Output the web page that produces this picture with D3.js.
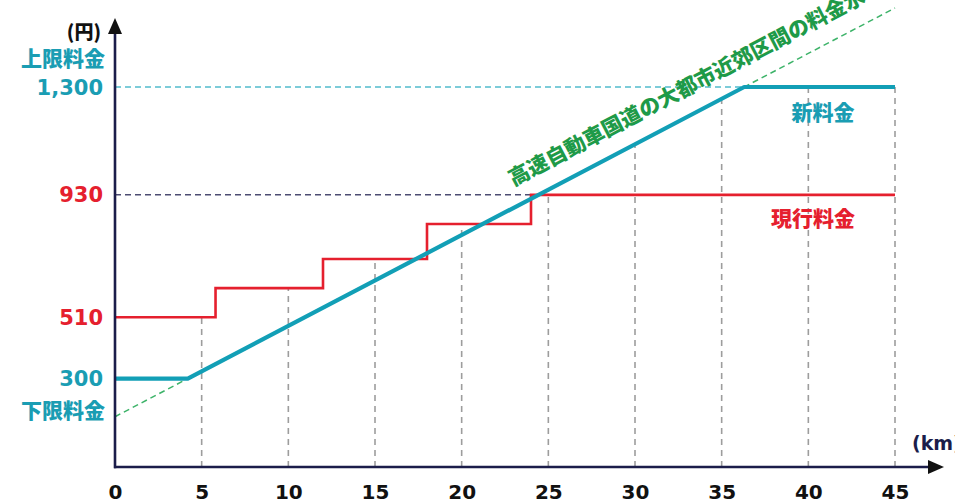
<!DOCTYPE html>
<html lang="ja">
<head>
<meta charset="UTF-8">
<title>料金水準</title>
<script src="https://d3js.org/d3.v7.min.js"></script>
<style>
  body { margin: 0; background: #fff; }
  svg { display: block; }
  .jp { font-family: "Noto Sans CJK JP", sans-serif; font-weight: 900; }
  .num { font-family: "DejaVu Sans", sans-serif; font-weight: 700; }
</style>
</head>
<body>
<div id="chart"></div>
<script>
// distance ticks (km)
const kmTicks = [0, 5, 10, 15, 20, 25, 30, 35, 40, 45];

// current fee: step function (km where each level starts, fee in yen)
const currentKm  = [0, 5.8, 12, 18, 24, 45];
const currentFee = [510, 610, 710, 830, 930, 930];

// new fee: lower limit, proportional section, upper limit
const newKm  = [0, 4.2, 36.3, 45];
const newFee = [300, 300, 1300, 1300];

// reference level of the metropolitan suburban sections
const refKm  = [0, 45];
const refFee = [169, 1571];

// y labels
const yLabels = [
  {value: 1300, text: "1,300", color: "#1a9db3"},
  {value: 930,  text: "930",   color: "#e5202e"},
  {value: 510,  text: "510",   color: "#e5202e"},
  {value: 300,  text: "300",   color: "#1a9db3"}
];

const teal = "#129fb6", red = "#e5202e", navy = "#1b1d4a", green = "#1e9a48";

const W = 955, H = 504;
const svg = d3.select("#chart").append("svg")
  .attr("width", W).attr("height", H);

const x = d3.scaleLinear().domain([0, 45]).range([115, 895]);
const y = d3.scaleLinear().domain([0, 1300]).range([466, 87]);
const axisY = 467;

const zip = (a, b) => a.map((d, i) => [d, b[i]]);
const currentPts = zip(currentKm, currentFee);
const newPts = zip(newKm, newFee);
const refPts = zip(refKm, refFee);

// value of a series at km k
function stepAt(k) {
  let v = currentFee[0];
  currentKm.forEach((d, i) => { if (k >= d) v = currentFee[i]; });
  return v;
}
function lineAt(k) {
  for (let i = 1; i < newKm.length; i++) {
    if (k <= newKm[i]) {
      const t = (k - newKm[i - 1]) / (newKm[i] - newKm[i - 1]);
      return newFee[i - 1] + t * (newFee[i] - newFee[i - 1]);
    }
  }
  return newFee[newFee.length - 1];
}

// vertical grid dashes up to the upper of the two lines
svg.append("g").selectAll("line")
  .data(kmTicks.filter(d => d > 0))
  .join("line")
    .attr("x1", d => x(d)).attr("x2", d => x(d))
    .attr("y1", axisY)
    .attr("y2", d => y(Math.max(stepAt(d), lineAt(d))))
    .attr("stroke", "#9d9d9d")
    .attr("stroke-width", 1.6)
    .attr("stroke-dasharray", "6,5");

// horizontal guides
svg.append("line")
  .attr("x1", x(0)).attr("x2", x(newKm[2]))
  .attr("y1", y(1300)).attr("y2", y(1300))
  .attr("stroke", "#52bccd").attr("stroke-width", 1.5)
  .attr("stroke-dasharray", "6,4");

svg.append("line")
  .attr("x1", x(0)).attr("x2", x(currentKm[4]))
  .attr("y1", y(930)).attr("y2", y(930))
  .attr("stroke", "#4d4d72").attr("stroke-width", 1.5)
  .attr("stroke-dasharray", "6,4");

// reference dashed line
const line = d3.line().x(d => x(d[0])).y(d => y(d[1]));

svg.append("path")
  .attr("d", line(refPts))
  .attr("fill", "none")
  .attr("stroke", "#3db369")
  .attr("stroke-width", 1.5)
  .attr("stroke-dasharray", "6,4");

// current fee
svg.append("path")
  .attr("d", line.curve(d3.curveStepAfter)(currentPts))
  .attr("fill", "none")
  .attr("stroke", red)
  .attr("stroke-width", 2.6);

// new fee
svg.append("path")
  .attr("d", d3.line().x(d => x(d[0])).y(d => y(d[1]))(newPts))
  .attr("fill", "none")
  .attr("stroke", teal)
  .attr("stroke-width", 4.2)
  .attr("stroke-linejoin", "round");

// axes with arrows
svg.append("line")
  .attr("x1", 115).attr("x2", 115)
  .attr("y1", 30).attr("y2", axisY + 1.2)
  .attr("stroke", navy).attr("stroke-width", 2.6);
svg.append("path")
  .attr("d", "M115,18 L122,34 L108,34 Z")
  .attr("fill", "#111");

svg.append("line")
  .attr("x1", 114).attr("x2", 932)
  .attr("y1", axisY).attr("y2", axisY)
  .attr("stroke", navy).attr("stroke-width", 2.6);
svg.append("path")
  .attr("d", `M944,${axisY} L928,${axisY - 7} L928,${axisY + 7} Z`)
  .attr("fill", "#111");

// x tick labels
svg.append("g")
  .attr("transform", `translate(0,${axisY})`)
  .call(d3.axisBottom(x).tickValues(kmTicks).tickSize(0).tickPadding(18))
  .call(g => g.select(".domain").remove())
  .selectAll("text")
    .attr("class", "num")
    .style("font-size", "20px")
    .attr("fill", "#111");

// y labels
svg.append("g").selectAll("text")
  .data(yLabels)
  .join("text")
    .attr("class", "num")
    .attr("x", 103)
    .attr("y", d => y(d.value))
    .attr("dy", "0.36em")
    .attr("text-anchor", "end")
    .style("font-size", "21px")
    .attr("fill", d => d.color)
    .text(d => d.text);

svg.append("text").attr("class", "jp")
  .attr("x", 105).attr("y", 58).attr("dy", "0.36em")
  .attr("text-anchor", "end").style("font-size", "21px")
  .attr("fill", "#1a9db3").text("上限料金");

svg.append("text").attr("class", "jp")
  .attr("x", 105).attr("y", 410).attr("dy", "0.36em")
  .attr("text-anchor", "end").style("font-size", "21px")
  .attr("fill", "#1a9db3").text("下限料金");

svg.append("text").attr("class", "jp")
  .attr("x", 101).attr("y", 32).attr("dy", "0.36em")
  .attr("text-anchor", "end").style("font-size", "19px")
  .attr("fill", "#111").text("(円)");

svg.append("text").attr("class", "num")
  .attr("x", 912).attr("y", 443).attr("dy", "0.36em")
  .style("font-size", "19px")
  .attr("fill", navy).text("(km)");

// series labels
svg.append("text").attr("class", "jp")
  .attr("x", 823).attr("y", 112).attr("dy", "0.36em")
  .attr("text-anchor", "middle").style("font-size", "21px")
  .attr("fill", "#1a9db3").text("新料金");

svg.append("text").attr("class", "jp")
  .attr("x", 813).attr("y", 218).attr("dy", "0.36em")
  .attr("text-anchor", "middle").style("font-size", "21px")
  .attr("fill", red).text("現行料金");

// label along the reference line
const angle = Math.atan2(y(refFee[1]) - y(refFee[0]), x(refKm[1]) - x(refKm[0])) * 180 / Math.PI;
const labelKm = 23.5;
const labelFee = refFee[0] + (refFee[1] - refFee[0]) * labelKm / refKm[1];

svg.append("text").attr("class", "jp")
  .attr("transform", `translate(${x(labelKm)},${y(labelFee)}) rotate(${angle})`)
  .attr("y", -19)
  .style("font-size", "21px")
  .attr("fill", green)
  .text("高速自動車国道の大都市近郊区間の料金水準");
</script>
</body>
</html>
